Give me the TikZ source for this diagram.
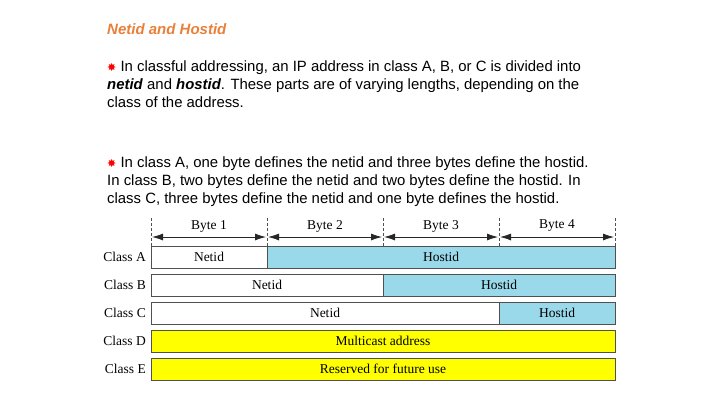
\documentclass[tikz,border=0pt]{standalone}
\usepackage{fontspec}
\setmainfont{Liberation Serif}
\setsansfont{Liberation Sans}
\newfontfamily\symfont{DejaVu Sans}
\usetikzlibrary{arrows.meta}
\definecolor{titleor}{HTML}{E8803A}
\definecolor{hostblue}{HTML}{99D9EA}
\definecolor{resyel}{HTML}{FFFF00}
\definecolor{bordgray}{HTML}{505050}
\begin{document}
\begin{tikzpicture}[x=1pt,y=-1pt,
  body/.style={anchor=west,font=\sffamily\fontsize{14.9}{18}\selectfont,inner sep=0pt,align=left},
  cell/.style={draw=bordgray,line width=0.8pt,minimum height=22pt,inner sep=0pt,font=\fontsize{13.5}{15}\selectfont},
  netcell/.style={cell,fill=white},
  hostcell/.style={cell,fill=hostblue},
  yelcell/.style={cell,fill=resyel},
  clslabel/.style={anchor=east,inner sep=0pt,font=\fontsize{13.5}{15}\selectfont},
  bytelabel/.style={inner sep=0pt,font=\fontsize{13.5}{15}\selectfont},
  tick/.style={draw=bordgray,line width=0.6pt,dash pattern=on 3pt off 2pt},
  span/.style={draw=black!85,line width=0.8pt,arrows={Latex[length=11pt,width=7pt]-Latex[length=11pt,width=7pt]}}
]
\useasboundingbox (0,0) rectangle (720,405);
\node[anchor=west,inner sep=0pt,text=titleor,font=\sffamily\bfseries\itshape\fontsize{15}{17}\selectfont] (title) at (107,29) {Netid and Hostid};
\node[body] (p1) at (107,84) {{\color{red}\symfont\fontsize{11}{18}\selectfont ✸} In classful addressing, an IP address in class A, B, or C is divided into\\
\textbf{\itshape netid} and \textbf{\itshape hostid}. These parts are of varying lengths, depending on the\\
class of the address.};
\node[body] (p2) at (107,182) {{\color{red}\symfont\fontsize{11}{18}\selectfont ✸} In class A, one byte defines the netid and three bytes define the hostid.\\
In class B, two bytes define the netid and two bytes define the hostid. In\\
class C, three bytes define the netid and one byte defines the hostid.};

% byte ticks
\foreach \i/\x in {0/151,1/267,2/383,3/499,4/615}{
  \coordinate (t\i) at (\x,218);
  \coordinate (b\i) at (\x,246);
  \draw[tick] (t\i) -- (b\i);
}
\foreach \i/\j/\x/\n in {0/1/209/1,1/2/325/2,2/3/441/3,3/4/557/4}{
  \coordinate (la\i) at ([xshift=1pt]t\i |- 0,237);
  \coordinate (ra\i) at ([xshift=-1pt]t\j |- 0,237);
  \draw[span] (la\i) -- (ra\i);
  \node[bytelabel] (byte\n) at (\x,226) {Byte \n};
}

% rows
\node[netcell,minimum width=116pt] (aN) at (209,257) {Netid};
\node[hostcell,minimum width=348pt] (aH) at (441,257) {Hostid};
\node[clslabel] (cA) at (146,257) {Class A};

\node[netcell,minimum width=232pt] (bN) at (267,285) {Netid};
\node[hostcell,minimum width=232pt] (bH) at (499,285) {Hostid};
\node[clslabel] (cB) at (146,285) {Class B};

\node[netcell,minimum width=348pt] (cN) at (325,313) {Netid};
\node[hostcell,minimum width=116pt] (cH) at (557,313) {Hostid};
\node[clslabel] (cC) at (146,313) {Class C};

\node[yelcell,minimum width=464pt] (dM) at (383,341) {Multicast address};
\node[clslabel] (cD) at (146,341) {Class D};

\node[yelcell,minimum width=464pt] (eR) at (383,369) {Reserved for future use};
\node[clslabel] (cE) at (146,369) {Class E};
\end{tikzpicture}
\end{document}
